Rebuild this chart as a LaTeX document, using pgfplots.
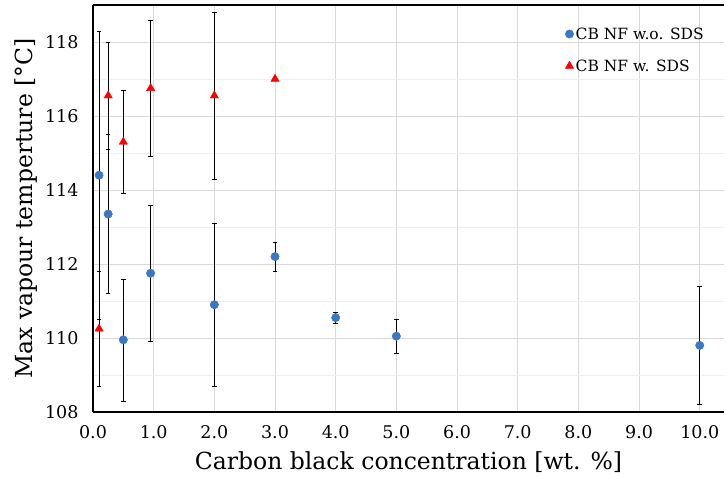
\documentclass[border=0pt]{standalone}
\usepackage{pgfplots}
\pgfplotsset{compat=1.18}
\usepackage{pgfplotstable}
\usepackage{fontspec}
\setmainfont{DejaVu Serif}
\definecolor{cbblue}{RGB}{58,119,196}
\definecolor{gridmaj}{RGB}{217,217,217}
\definecolor{gridmin}{RGB}{238,238,238}

\pgfplotstableread{
x     y       e
0.1   114.4   3.9
0.25  113.35  2.15
0.5   109.95  1.65
0.95  111.75  1.85
2     110.9   2.2
3     112.2   0.4
4     110.55  0.15
5     110.05  0.45
10    109.8   1.6
}\woSDS

\pgfplotstableread{
x     y       e
0.1   110.25  1.55
0.25  116.55  1.45
0.5   115.3   1.4
0.95  116.75  1.83
2     116.55  2.25
3     117.0   0
}\wSDS

\begin{document}
\begin{tikzpicture}
\begin{axis}[
  scale only axis,
  width=631pt, height=407pt,
  xmin=0, xmax=10.4,
  ymin=108, ymax=119,
  axis x line=box, axis y line=left,
  axis line style={-, black, line width=1.2pt},
  xtick={0,1,...,10},
  ytick={108,110,...,118},
  minor ytick={109,111,...,119},
  /pgf/number format/assume math mode=true,
  xticklabel style={/pgf/number format/fixed, /pgf/number format/fixed zerofill, /pgf/number format/precision=1, yshift=-10pt},
  yticklabel style={/pgf/number format/fixed, /pgf/number format/precision=0, xshift=-11pt},
  tick label style={font=\fontsize{17.5}{20}\selectfont},
  major tick length=0pt, minor tick length=0pt,
  grid=both,
  major grid style={gridmaj, line width=0.8pt},
  minor grid style={gridmin, line width=0.8pt},
  xlabel={Carbon black concentration [wt. \%]},
  ylabel={Max vapour temperture [°C]},
  label style={font=\fontsize{23.5}{27}\selectfont},
  xlabel style={yshift=-6pt},
  ylabel style={yshift=1pt},
  legend style={at={(0.745,0.955)}, anchor=north west, draw=none, fill=none,
    font=\fontsize{15.5}{18}\selectfont, row sep=15pt, inner sep=2pt,
    legend cell align=left},
  legend image code/.code={\draw[#1] (0.1cm,0cm) -- plot coordinates {(0.1cm,0cm)};},
  error bars/error bar style={black, line width=0.6pt},
  error bars/error mark options={rotate=90, mark size=2.3pt, line width=0.6pt, black},
  clip=false,
  after end axis/.code={
    \coordinate (bl) at (rel axis cs:0,0);
    \coordinate (tr) at (rel axis cs:1,1);
  },
]
\addplot[only marks, mark=*, mark size=4.2pt, mark options={fill=cbblue, draw=cbblue},
  error bars/.cd, y dir=both, y explicit]
  table[x=x, y=y, y error=e] {\woSDS};
\addlegendentry{CB NF w.o. SDS}
\addplot[only marks, mark=triangle*, mark size=4.8pt, mark options={fill=red, draw=red},
  error bars/.cd, y dir=both, y explicit]
  table[x=x, y=y, y error=e] {\wSDS};
\addlegendentry{CB NF w. SDS}
\end{axis}
\pgfresetboundingbox
\path ([xshift=-93pt,yshift=-65pt]bl) rectangle ([xshift=2pt,yshift=5pt]tr);
\end{tikzpicture}
\end{document}
